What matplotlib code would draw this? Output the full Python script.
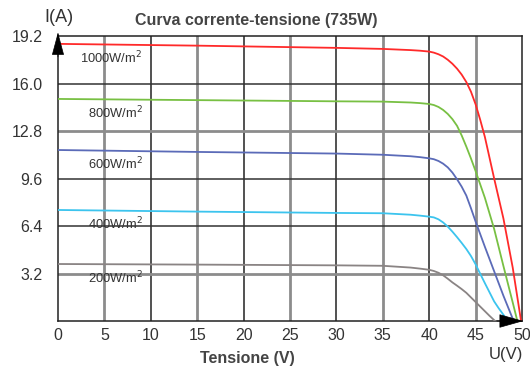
import matplotlib
matplotlib.use('Agg')
import matplotlib.pyplot as plt

plt.rcParams['font.family'] = ['Liberation Sans', 'DejaVu Sans']

# I-V curves (voltage V, current A)
v_1000 = [0, 15, 30, 35, 38, 39, 40, 40.5, 41, 41.5, 42, 42.5, 43, 43.5, 44, 44.5, 45, 45.5, 46, 47, 48, 49, 49.9]
i_1000 = [18.67, 18.55, 18.4, 18.33, 18.25, 18.21, 18.15, 18.08, 17.97, 17.82, 17.6, 17.33, 17.0, 16.6, 16.1,
          15.45, 14.6, 13.55, 12.4, 9.6, 6.9, 3.6, 0]

v_800 = [0, 15, 30, 35, 38, 39, 40, 40.5, 41, 41.5, 42, 42.5, 43, 43.5, 44, 44.5, 45, 46, 47, 48, 49, 49.5]
i_800 = [14.96, 14.88, 14.8, 14.78, 14.72, 14.68, 14.62, 14.55, 14.42, 14.22, 13.95, 13.6, 13.15, 12.5, 11.75,
         10.95, 10.1, 8.3, 6.2, 3.7, 1.25, 0]

v_600 = [0, 15, 30, 35, 38, 39, 40, 40.5, 41, 41.5, 42, 42.5, 43, 43.5, 44, 44.5, 45, 46, 47, 48, 49.1]
i_600 = [11.52, 11.39, 11.28, 11.2, 11.1, 11.04, 10.96, 10.9, 10.78, 10.6, 10.35, 10.0, 9.55, 9.05, 8.45,
         7.6, 6.7, 5.0, 3.35, 1.7, 0]

v_400 = [0, 15, 30, 35, 38, 39, 40, 40.5, 41, 41.5, 42, 42.5, 43, 43.5, 44, 44.5, 45, 45.5, 46, 47, 47.5, 48, 48.5]
i_400 = [7.48, 7.37, 7.28, 7.26, 7.16, 7.1, 7.03, 6.98, 6.85, 6.64, 6.36, 6.02, 5.65, 5.26, 4.85,
         4.38, 3.82, 3.18, 2.55, 1.32, 0.85, 0.42, 0]

v_200 = [0, 15, 30, 35, 38, 39, 40, 40.5, 41, 41.5, 42, 42.5, 43, 43.5, 44, 45, 46, 46.5, 47.1]
i_200 = [3.84, 3.8, 3.75, 3.72, 3.6, 3.53, 3.45, 3.37, 3.25, 3.08, 2.85, 2.6, 2.38, 2.15, 1.9,
         1.28, 0.66, 0.35, 0]

labels = ['1000W/m$^2$', '800W/m$^2$', '600W/m$^2$', '400W/m$^2$', '200W/m$^2$']
colors = ['#ff2a2a', '#78c043', '#5b6bb8', '#3cc4ee', '#8a8484']

x_ticks = [0, 5, 10, 15, 20, 25, 30, 35, 40, 45, 50]
y_ticks = [3.2, 6.4, 9.6, 12.8, 16.0, 19.2]
grid_x_black = [10, 20, 30, 40]
grid_x_gray = [5, 15, 25, 35, 45]
grid_y_black = [16.0, 9.6, 6.4]
grid_y_gray = [12.8, 3.2]

fig = plt.figure(figsize=(5.3, 3.7), dpi=100)
ax = fig.add_axes([0.1094, 0.1324, 0.8755, 0.7703])

for x in grid_x_gray:
    ax.axvline(x, color='#8c8c8c', lw=2.0, zorder=1)
for x in grid_x_black:
    ax.axvline(x, color='#222222', lw=1.1, zorder=1)
for y in grid_y_gray:
    ax.axhline(y, color='#8c8c8c', lw=2.0, zorder=1)
for y in grid_y_black:
    ax.axhline(y, color='#333333', lw=1.1, zorder=1)

curves = [(v_1000, i_1000), (v_800, i_800), (v_600, i_600), (v_400, i_400), (v_200, i_200)]
for (v, i), c in zip(curves, colors):
    ax.plot(v, i, color=c, lw=1.3, zorder=3, solid_joinstyle='round')

# irradiance labels just under each curve
for (v, i), lab in zip(curves, labels):
    ax.text(2.4 if lab.startswith('1000') else 3.2, i[0] - 0.95, lab, fontsize=9.3,
            color='#333333', va='center', ha='left', zorder=4)

ax.set_xlim(0, 50)
ax.set_ylim(0, 19.2)
ax.set_xticks(x_ticks)
ax.set_yticks(y_ticks)
ax.set_yticklabels([f'{t:.1f}' for t in y_ticks])
ax.tick_params(length=0, labelsize=11.5, colors='#333333')
ax.tick_params(axis='x', pad=5)
ax.tick_params(axis='y', pad=11)
for s in ax.spines.values():
    s.set_color('#222222')
    s.set_linewidth(1.1)

# axis arrows
ax.annotate('', xy=(50.15, 0), xytext=(47.3, 0), xycoords='data',
            arrowprops=dict(arrowstyle='-|>,head_length=1.6,head_width=0.45',
                            color='black', lw=0.5, shrinkA=0, shrinkB=0),
            annotation_clip=False, zorder=5)
ax.annotate('', xy=(0, 19.45), xytext=(0, 17.8), xycoords='data',
            arrowprops=dict(arrowstyle='-|>,head_length=1.5,head_width=0.4',
                            color='black', lw=0.5, shrinkA=0, shrinkB=0),
            annotation_clip=False, zorder=5)

fig.text(256 / 530, 1 - 20 / 370, 'Curva corrente-tensione (735W)', ha='center', va='center',
         fontsize=11.5, fontweight='bold', color='#444444')
fig.text(59 / 530, 1 - 18 / 370, 'I(A)', ha='center', va='center', fontsize=13, color='#333333')
fig.text(506 / 530, 1 - 355 / 370, 'U(V)', ha='center', va='center', fontsize=12, color='#333333')
fig.text(247 / 530, 1 - 358 / 370, 'Tensione (V)', ha='center', va='center',
         fontsize=11.5, fontweight='bold', color='#444444')

fig.savefig('out.png', dpi=100)
